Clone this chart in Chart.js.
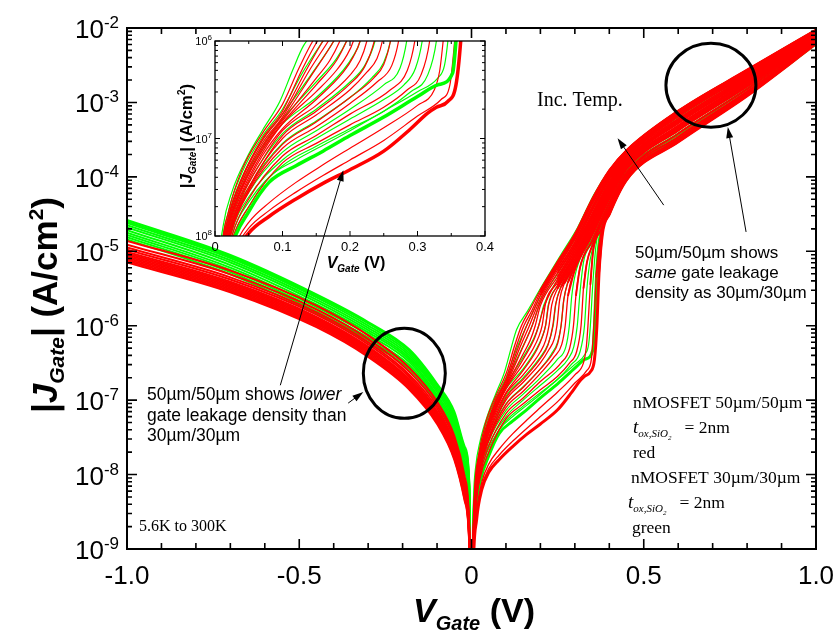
<!DOCTYPE html>
<html><head><meta charset="utf-8">
<script src="https://cdn.jsdelivr.net/npm/chart.js@4/dist/chart.umd.min.js"></script>
<style>
html,body{margin:0;padding:0;background:#fff;}
#wrap{position:relative;width:837px;height:633px;overflow:hidden;background:#fff;}
canvas{position:absolute;left:0;top:0;}
</style></head>
<body><div id="wrap"><canvas id="main" width="837" height="633"></canvas><canvas id="inset" width="837" height="633"></canvas></div>
<script>
// ---------------- DATA (values are log10 of |J_Gate| in A/cm^2) ----------------
const X_TICK_VALUES = [-1, -0.5, 0, 0.5, 1];
const X_TICK_LABELS = ['-1.0', '-0.5', '0', '0.5', '1.0'];
const Y_TICK_EXPONENTS = [-9, -8, -7, -6, -5, -4, -3, -2];
const INSET_X_TICK_VALUES = [0, 0.1, 0.2, 0.3, 0.4];
const INSET_X_TICK_LABELS = ['0', '0.1', '0.2', '0.3', '0.4'];
const INSET_Y_TICK_EXPONENTS = [-8, -7, -6];
const INSET_Y_TICK_LABELS = ['8', '7', '6'];

// negative gate voltage branch, common V grid
const X_NEG = [-1, -0.7, -0.45, -0.3, -0.18, -0.1, -0.05, -0.02, -0.006, 0];

// 50um/50um (red), low T -> high T
const RED_NEG_LOG10 = [
  [-5.15,-5.55,-6.02,-6.42,-6.86,-7.32,-7.80,-8.35,-9.00,-11],
  [-5.13,-5.53,-6.00,-6.40,-6.84,-7.30,-7.78,-8.33,-8.98,-11],
  [-5.11,-5.51,-5.98,-6.38,-6.82,-7.28,-7.76,-8.30,-8.97,-11],
  [-5.09,-5.49,-5.96,-6.36,-6.80,-7.26,-7.73,-8.28,-8.95,-11],
  [-5.07,-5.47,-5.94,-6.34,-6.78,-7.24,-7.71,-8.26,-8.93,-11],
  [-5.05,-5.45,-5.92,-6.32,-6.76,-7.21,-7.69,-8.23,-8.92,-11],
  [-5.03,-5.43,-5.90,-6.30,-6.74,-7.19,-7.67,-8.21,-8.90,-11],
  [-5.01,-5.41,-5.88,-6.28,-6.72,-7.17,-7.64,-8.19,-8.88,-11],
  [-4.98,-5.38,-5.85,-6.25,-6.69,-7.15,-7.61,-8.16,-8.86,-11],
  [-4.95,-5.35,-5.82,-6.22,-6.66,-7.11,-7.58,-8.12,-8.83,-11],
  [-4.91,-5.31,-5.78,-6.18,-6.62,-7.07,-7.53,-8.08,-8.80,-11],
  [-4.86,-5.26,-5.73,-6.13,-6.57,-7.02,-7.48,-8.02,-8.76,-11]
];
// 30um/30um (green)
const GREEN_NEG_LOG10 = [
  [-4.84,-5.31,-5.84,-6.22,-6.59,-7.06,-7.48,-7.98,-8.45,-11],
  [-4.81,-5.28,-5.81,-6.19,-6.56,-7.03,-7.44,-7.94,-8.41,-11],
  [-4.78,-5.25,-5.78,-6.16,-6.53,-6.99,-7.40,-7.89,-8.38,-11],
  [-4.75,-5.22,-5.75,-6.12,-6.49,-6.96,-7.36,-7.85,-8.34,-11],
  [-4.715,-5.185,-5.715,-6.09,-6.46,-6.93,-7.32,-7.81,-8.31,-11],
  [-4.68,-5.15,-5.68,-6.06,-6.43,-6.89,-7.28,-7.76,-8.27,-11],
  [-4.65,-5.12,-5.65,-6.03,-6.40,-6.86,-7.24,-7.72,-8.23,-11],
  [-4.62,-5.09,-5.62,-6.00,-6.37,-6.83,-7.21,-7.68,-8.20,-11],
  [-4.60,-5.07,-5.60,-5.97,-6.34,-6.80,-7.18,-7.65,-8.17,-11],
  [-4.58,-5.05,-5.58,-5.95,-6.32,-6.78,-7.15,-7.62,-8.15,-11]
];

// positive gate voltage branch: [V, log10|J|] per temperature curve (low T first)
const RED_POS_LOG10 = [
  [[0,-11],[0.005,-9.3],[0.015,-8.6],[0.03,-8.2],[0.05,-7.97],[0.08,-7.8],[0.12,-7.62],[0.16,-7.46],[0.2,-7.32],[0.25,-7.13],[0.29,-6.9],[0.315,-6.74],[0.328,-6.68],[0.345,-6.62],[0.357,-6.45],[0.364,-6.0],[0.37,-5.3],[0.38,-4.76],[0.4,-4.5],[0.45,-4.04],[0.6,-3.53],[0.8,-2.91],[1.0,-2.21]],
  [[0,-11],[0.005,-9.25],[0.015,-8.55],[0.03,-8.15],[0.05,-7.92],[0.08,-7.74],[0.12,-7.55],[0.16,-7.38],[0.2,-7.22],[0.25,-7.02],[0.3,-6.77],[0.335,-6.6],[0.348,-6.45],[0.355,-6.0],[0.362,-5.35],[0.372,-4.88],[0.4,-4.47],[0.45,-4.02],[0.6,-3.51],[0.8,-2.89],[1.0,-2.2]],
  [[0,-11],[0.005,-9.2],[0.015,-8.5],[0.03,-8.1],[0.05,-7.86],[0.08,-7.66],[0.12,-7.45],[0.16,-7.27],[0.2,-7.1],[0.25,-6.89],[0.3,-6.66],[0.325,-6.5],[0.333,-6.3],[0.338,-6.0],[0.345,-5.45],[0.353,-5.0],[0.375,-4.72],[0.4,-4.44],[0.45,-4.0],[0.6,-3.49],[0.8,-2.87],[1.0,-2.19]],
  [[0,-11],[0.004,-9.3],[0.012,-8.5],[0.025,-8.05],[0.05,-7.7],[0.1,-7.25],[0.15,-7.05],[0.2,-6.86],[0.25,-6.68],[0.285,-6.5],[0.305,-6.35],[0.318,-6.0],[0.325,-5.5],[0.335,-5.15],[0.35,-4.93],[0.4,-4.4],[0.45,-3.97],[0.6,-3.46],[0.8,-2.85],[1.0,-2.18]],
  [[0,-11],[0.004,-9.3],[0.012,-8.45],[0.025,-8.0],[0.05,-7.62],[0.1,-7.18],[0.15,-6.97],[0.2,-6.75],[0.26,-6.5],[0.285,-6.3],[0.296,-6.0],[0.303,-5.6],[0.315,-5.22],[0.35,-4.86],[0.4,-4.35],[0.45,-3.94],[0.6,-3.42],[0.8,-2.82],[1.0,-2.16]],
  [[0,-11],[0.004,-9.25],[0.012,-8.4],[0.025,-7.95],[0.05,-7.55],[0.1,-7.1],[0.15,-6.88],[0.2,-6.64],[0.24,-6.42],[0.262,-6.25],[0.272,-6.0],[0.28,-5.6],[0.3,-5.25],[0.35,-4.79],[0.4,-4.3],[0.45,-3.9],[0.6,-3.38],[0.8,-2.79],[1.0,-2.15]],
  [[0,-11],[0.004,-9.22],[0.012,-8.38],[0.025,-7.93],[0.05,-7.53],[0.1,-7.06],[0.15,-6.83],[0.2,-6.58],[0.235,-6.38],[0.25,-6.24],[0.26,-6.0],[0.268,-5.65],[0.28,-5.42],[0.3,-5.21],[0.35,-4.75],[0.4,-4.27],[0.45,-3.88],[0.6,-3.36],[0.8,-2.77],[1.0,-2.14]],
  [[0,-11],[0.004,-9.2],[0.012,-8.35],[0.025,-7.9],[0.05,-7.5],[0.1,-7.0],[0.15,-6.76],[0.2,-6.5],[0.225,-6.32],[0.24,-6.18],[0.248,-6.0],[0.256,-5.65],[0.27,-5.43],[0.3,-5.18],[0.35,-4.72],[0.4,-4.24],[0.45,-3.86],[0.6,-3.35],[0.8,-2.76],[1.0,-2.13]],
  [[0,-11],[0.004,-9.2],[0.012,-8.38],[0.025,-7.92],[0.05,-7.52],[0.1,-6.97],[0.15,-6.72],[0.2,-6.44],[0.222,-6.26],[0.236,-6.0],[0.244,-5.72],[0.26,-5.48],[0.3,-5.15],[0.35,-4.69],[0.4,-4.22],[0.45,-3.85],[0.6,-3.33],[0.8,-2.74],[1.0,-2.12]],
  [[0,-11],[0.004,-9.2],[0.01,-8.4],[0.02,-8.0],[0.04,-7.6],[0.07,-7.22],[0.1,-6.92],[0.15,-6.66],[0.2,-6.35],[0.215,-6.2],[0.225,-6.0],[0.233,-5.72],[0.25,-5.5],[0.3,-5.11],[0.35,-4.65],[0.4,-4.19],[0.45,-3.83],[0.6,-3.31],[0.8,-2.72],[1.0,-2.11]],
  [[0,-11],[0.004,-9.18],[0.01,-8.38],[0.02,-7.98],[0.04,-7.58],[0.07,-7.18],[0.1,-6.9],[0.15,-6.6],[0.19,-6.32],[0.205,-6.16],[0.215,-6.0],[0.224,-5.72],[0.25,-5.46],[0.3,-5.07],[0.35,-4.61],[0.4,-4.16],[0.45,-3.81],[0.6,-3.28],[0.8,-2.7],[1.0,-2.1]],
  [[0,-11],[0.004,-9.15],[0.01,-8.35],[0.02,-7.95],[0.04,-7.55],[0.07,-7.15],[0.1,-6.85],[0.15,-6.52],[0.18,-6.3],[0.195,-6.15],[0.205,-6.0],[0.215,-5.7],[0.25,-5.42],[0.3,-5.04],[0.35,-4.57],[0.4,-4.13],[0.45,-3.79],[0.6,-3.26],[0.8,-2.69],[1.0,-2.09]],
  [[0,-11],[0.004,-9.12],[0.01,-8.32],[0.02,-7.92],[0.04,-7.52],[0.07,-7.12],[0.1,-6.84],[0.15,-6.45],[0.18,-6.2],[0.195,-6.0],[0.21,-5.75],[0.25,-5.38],[0.3,-5.0],[0.35,-4.53],[0.4,-4.1],[0.45,-3.77],[0.6,-3.24],[0.8,-2.67],[1.0,-2.08]],
  [[0,-11],[0.004,-9.1],[0.01,-8.3],[0.02,-7.9],[0.04,-7.5],[0.07,-7.1],[0.1,-6.82],[0.15,-6.38],[0.17,-6.2],[0.185,-6.0],[0.2,-5.73],[0.25,-5.34],[0.3,-4.96],[0.35,-4.5],[0.4,-4.07],[0.45,-3.74],[0.6,-3.22],[0.8,-2.65],[1.0,-2.07]],
  [[0,-11],[0.004,-9.1],[0.01,-8.28],[0.02,-7.88],[0.04,-7.48],[0.07,-7.08],[0.1,-6.8],[0.145,-6.33],[0.176,-6.0],[0.2,-5.68],[0.25,-5.29],[0.3,-4.92],[0.35,-4.45],[0.4,-4.03],[0.45,-3.72],[0.6,-3.19],[0.8,-2.63],[1.0,-2.06]],
  [[0,-11],[0.004,-9.1],[0.01,-8.25],[0.02,-7.85],[0.04,-7.45],[0.07,-7.05],[0.1,-6.78],[0.14,-6.3],[0.168,-6.0],[0.2,-5.64],[0.25,-5.25],[0.3,-4.88],[0.35,-4.41],[0.4,-4.0],[0.45,-3.7],[0.6,-3.17],[0.8,-2.61],[1.0,-2.05]],
  [[0,-11],[0.004,-9.05],[0.01,-8.22],[0.02,-7.82],[0.04,-7.42],[0.07,-7.02],[0.1,-6.75],[0.135,-6.3],[0.16,-6.0],[0.18,-5.8],[0.2,-5.59],[0.25,-5.21],[0.3,-4.83],[0.35,-4.36],[0.4,-3.97],[0.45,-3.68],[0.6,-3.15],[0.8,-2.59],[1.0,-2.04]],
  [[0,-11],[0.004,-9.05],[0.01,-8.2],[0.02,-7.8],[0.04,-7.4],[0.07,-7.0],[0.1,-6.72],[0.13,-6.28],[0.152,-6.0],[0.175,-5.8],[0.2,-5.55],[0.25,-5.17],[0.3,-4.8],[0.35,-4.33],[0.4,-3.94],[0.45,-3.65],[0.6,-3.13],[0.8,-2.57],[1.0,-2.03]],
  [[0,-11],[0.004,-9.0],[0.01,-8.15],[0.02,-7.75],[0.04,-7.32],[0.07,-6.95],[0.1,-6.65],[0.125,-6.27],[0.145,-6.0],[0.17,-5.78],[0.2,-5.52],[0.25,-5.14],[0.3,-4.77],[0.35,-4.3],[0.4,-3.91],[0.45,-3.64],[0.6,-3.11],[0.8,-2.56],[1.0,-2.02]]
];
const GREEN_POS_LOG10 = [
  [[0,-11],[0.003,-9.4],[0.01,-8.6],[0.025,-8.1],[0.05,-7.75],[0.08,-7.45],[0.12,-7.28],[0.16,-7.13],[0.2,-6.97],[0.25,-6.78],[0.3,-6.57],[0.33,-6.45],[0.352,-6.33],[0.357,-6.0],[0.362,-5.4],[0.37,-4.9],[0.4,-4.49],[0.45,-4.03],[0.6,-3.52],[0.8,-2.9],[1.0,-2.21]],
  [[0,-11],[0.003,-9.35],[0.01,-8.55],[0.025,-8.05],[0.05,-7.7],[0.08,-7.4],[0.12,-7.22],[0.16,-7.07],[0.2,-6.92],[0.25,-6.72],[0.3,-6.52],[0.33,-6.38],[0.34,-6.25],[0.345,-6.0],[0.352,-5.45],[0.362,-4.9],[0.4,-4.46],[0.45,-4.01],[0.6,-3.5],[0.8,-2.88],[1.0,-2.2]],
  [[0,-11],[0.003,-9.3],[0.01,-8.5],[0.025,-8.0],[0.05,-7.65],[0.1,-7.28],[0.15,-7.08],[0.2,-6.9],[0.25,-6.72],[0.29,-6.52],[0.315,-6.35],[0.328,-6.0],[0.335,-5.5],[0.345,-5.1],[0.36,-4.86],[0.4,-4.42],[0.45,-3.99],[0.6,-3.47],[0.8,-2.86],[1.0,-2.19]],
  [[0,-11],[0.003,-9.3],[0.01,-8.45],[0.025,-7.95],[0.05,-7.6],[0.1,-7.22],[0.15,-7.0],[0.2,-6.8],[0.25,-6.6],[0.28,-6.45],[0.297,-6.28],[0.307,-6.0],[0.314,-5.6],[0.325,-5.15],[0.35,-4.89],[0.4,-4.37],[0.45,-3.95],[0.6,-3.44],[0.8,-2.83],[1.0,-2.17]],
  [[0,-11],[0.003,-9.25],[0.01,-8.4],[0.025,-7.9],[0.05,-7.55],[0.1,-7.14],[0.15,-6.92],[0.2,-6.7],[0.25,-6.45],[0.274,-6.28],[0.284,-6.0],[0.291,-5.6],[0.305,-5.24],[0.35,-4.83],[0.4,-4.33],[0.45,-3.92],[0.6,-3.41],[0.8,-2.81],[1.0,-2.15]],
  [[0,-11],[0.003,-9.2],[0.01,-8.35],[0.025,-7.85],[0.05,-7.5],[0.1,-7.05],[0.15,-6.82],[0.2,-6.58],[0.232,-6.38],[0.25,-6.22],[0.26,-6.0],[0.268,-5.65],[0.28,-5.4],[0.3,-5.22],[0.35,-4.76],[0.4,-4.27],[0.45,-3.88],[0.6,-3.37],[0.8,-2.77],[1.0,-2.14]],
  [[0,-11],[0.003,-9.2],[0.01,-8.3],[0.025,-7.8],[0.05,-7.45],[0.1,-6.95],[0.15,-6.7],[0.2,-6.42],[0.222,-6.25],[0.237,-6.0],[0.245,-5.7],[0.26,-5.47],[0.3,-5.15],[0.35,-4.69],[0.4,-4.22],[0.45,-3.85],[0.6,-3.33],[0.8,-2.74],[1.0,-2.12]],
  [[0,-11],[0.003,-9.15],[0.008,-8.4],[0.02,-7.9],[0.04,-7.5],[0.07,-7.12],[0.1,-6.85],[0.15,-6.58],[0.19,-6.3],[0.205,-6.15],[0.215,-6.0],[0.223,-5.72],[0.25,-5.46],[0.3,-5.07],[0.35,-4.61],[0.4,-4.16],[0.45,-3.81],[0.6,-3.28],[0.8,-2.7],[1.0,-2.1]],
  [[0,-11],[0.003,-9.1],[0.008,-8.35],[0.02,-7.85],[0.04,-7.45],[0.07,-7.08],[0.1,-6.8],[0.15,-6.42],[0.18,-6.18],[0.195,-6.0],[0.21,-5.72],[0.25,-5.38],[0.3,-5.0],[0.35,-4.53],[0.4,-4.1],[0.45,-3.77],[0.6,-3.24],[0.8,-2.67],[1.0,-2.08]],
  [[0,-11],[0.003,-9.05],[0.008,-8.3],[0.02,-7.8],[0.04,-7.4],[0.07,-7.02],[0.1,-6.75],[0.15,-6.27],[0.176,-6.0],[0.2,-5.68],[0.25,-5.3],[0.3,-4.92],[0.35,-4.46],[0.4,-4.04],[0.45,-3.72],[0.6,-3.2],[0.8,-2.63],[1.0,-2.06]],
  [[0,-11],[0.003,-9.0],[0.008,-8.25],[0.02,-7.75],[0.04,-7.35],[0.07,-6.98],[0.1,-6.7],[0.13,-6.32],[0.16,-6.0],[0.2,-5.6],[0.25,-5.21],[0.3,-4.84],[0.35,-4.37],[0.4,-3.97],[0.45,-3.68],[0.6,-3.15],[0.8,-2.59],[1.0,-2.04]],
  [[0,-11],[0.002,-9.2],[0.006,-8.3],[0.012,-7.9],[0.025,-7.55],[0.047,-7.2],[0.07,-6.92],[0.096,-6.62],[0.115,-6.3],[0.131,-6.05],[0.163,-5.8],[0.209,-5.43],[0.259,-5.05],[0.308,-4.68],[0.355,-4.24],[0.4,-3.91],[0.45,-3.64],[0.6,-3.11],[0.8,-2.56],[1.0,-2.02]]
];

// ---------------- helpers ----------------
const SANS = '"Liberation Sans", Arial, sans-serif';
const SERIF = '"Liberation Serif", "Times New Roman", serif';
const RED = '#ff0000', GREEN = '#00ff00';
const BAND_LOG10 = -5.6; // above this level the curves merge into one dense band

function seriesFromPairs(pairs) { return pairs.map(p => ({ x: p[0], y: Math.pow(10, p[1]) })); }
function seriesFromGrid(xs, logs) { return xs.map((x, i) => ({ x: x, y: Math.pow(10, logs[i]) })); }
function bandTail(pairs) { return pairs.filter(p => p[1] >= BAND_LOG10); }
function lineDs(data, color, width) {
  return { data, borderColor: color, backgroundColor: color, borderWidth: width, pointRadius: 0,
           pointHoverRadius: 0, fill: false, tension: 0.3, cubicInterpolationMode: 'monotone' };
}
function drawRich(ctx, segs, x, y, align, rot) {
  ctx.save();
  ctx.translate(x, y);
  if (rot) ctx.rotate(rot);
  ctx.textBaseline = 'alphabetic';
  ctx.textAlign = 'left';
  ctx.fillStyle = '#000';
  let w = 0;
  for (const s of segs) { ctx.font = s.f; w += ctx.measureText(s.t).width; }
  let cx = align === 'center' ? -w / 2 : (align === 'right' ? -w : 0);
  for (const s of segs) { ctx.font = s.f; ctx.fillText(s.t, cx, s.dy || 0); cx += ctx.measureText(s.t).width; }
  ctx.restore();
}

// ---------------- main chart ----------------
// Chart.js paints dataset 0 last (on top): red (50um) is listed first so it lies over green.
const mainDatasets = [];
RED_POS_LOG10.forEach(p => mainDatasets.push(lineDs(seriesFromPairs(bandTail(p)), RED, 1.9)));
RED_POS_LOG10.forEach((p, i) => mainDatasets.push(lineDs(seriesFromPairs(p), RED, i === 0 ? 3 : 1.3)));
RED_NEG_LOG10.forEach(l => mainDatasets.push(lineDs(seriesFromGrid(X_NEG, l), RED, 2)));
GREEN_POS_LOG10.forEach((p, i) => mainDatasets.push(lineDs(seriesFromPairs(p), GREEN, i === 0 ? 3 : 1.2)));
GREEN_NEG_LOG10.forEach(l => mainDatasets.push(lineDs(seriesFromGrid(X_NEG, l), GREEN, 2)));

const mainAxes = {
  id: 'mainAxes',
  afterDraw(chart) {
    const { ctx, chartArea: a, scales: { x, y } } = chart;
    ctx.save();
    ctx.strokeStyle = '#000';
    ctx.lineWidth = 1.6;
    ctx.beginPath();
    for (let i = 0; i <= 20; i++) {
      const px = x.getPixelForValue(-1 + i * 0.1);
      const len = (i % 5 === 0) ? 10 : 6;
      ctx.moveTo(px, a.bottom); ctx.lineTo(px, a.bottom - len);
      ctx.moveTo(px, a.top); ctx.lineTo(px, a.top + len);
    }
    for (let e = -9; e <= -2; e++) {
      const py = y.getPixelForValue(Math.pow(10, e));
      ctx.moveTo(a.left, py); ctx.lineTo(a.left + 10, py);
      ctx.moveTo(a.right, py); ctx.lineTo(a.right - 10, py);
      if (e < -2) {
        for (let m = 2; m <= 9; m++) {
          const pm = y.getPixelForValue(m * Math.pow(10, e));
          ctx.moveTo(a.left, pm); ctx.lineTo(a.left + 5, pm);
          ctx.moveTo(a.right, pm); ctx.lineTo(a.right - 5, pm);
        }
      }
    }
    ctx.stroke();
    ctx.lineWidth = 2;
    ctx.strokeRect(a.left, a.top, a.right - a.left, a.bottom - a.top);
    X_TICK_VALUES.forEach((v, i) => {
      drawRich(ctx, [{ t: X_TICK_LABELS[i], f: '26px ' + SANS }], x.getPixelForValue(v), a.bottom + 35, 'center');
    });
    Y_TICK_EXPONENTS.forEach(e => {
      const py = y.getPixelForValue(Math.pow(10, e));
      drawRich(ctx, [{ t: '10', f: '26px ' + SANS }, { t: String(e), f: '17px ' + SANS, dy: -10 }], a.left - 8, py + 10, 'right');
    });
    drawRich(ctx, [
      { t: 'V', f: 'italic bold 34px ' + SANS },
      { t: 'Gate', f: 'italic bold 20px ' + SANS, dy: 8 },
      { t: ' (V)', f: 'bold 34px ' + SANS }
    ], 474, 622, 'center');
    drawRich(ctx, [
      { t: '|', f: 'bold 35px ' + SANS },
      { t: 'J', f: 'italic bold 35px ' + SANS },
      { t: 'Gate', f: 'italic bold 21px ' + SANS, dy: 7 },
      { t: '| (A/cm', f: 'bold 35px ' + SANS },
      { t: '2', f: 'bold 21px ' + SANS, dy: -14 },
      { t: ')', f: 'bold 35px ' + SANS }
    ], 57, 305, 'center', -Math.PI / 2);
    ctx.restore();
  }
};

const mainChart = new Chart(document.getElementById('main'), {
  type: 'line',
  data: { datasets: mainDatasets },
  options: {
    responsive: false, animation: false, devicePixelRatio: 1, events: [],
    layout: { padding: { left: 127, top: 28, right: 21, bottom: 84 } },
    plugins: { legend: { display: false }, tooltip: { enabled: false } },
    scales: {
      x: { type: 'linear', min: -1, max: 1, display: false },
      y: { type: 'logarithmic', min: 1e-9, max: 1e-2, display: false }
    }
  },
  plugins: [mainAxes]
});

// ---------------- inset chart ----------------
const insetDatasets = [];
insetDatasets.push(lineDs(seriesFromPairs(GREEN_POS_LOG10[0]), GREEN, 3.5));
RED_POS_LOG10.forEach((p, i) => insetDatasets.push(lineDs(seriesFromPairs(p), RED, i === 0 ? 3.5 : 1.2)));
GREEN_POS_LOG10.forEach((p, i) => { if (i > 0) insetDatasets.push(lineDs(seriesFromPairs(p), GREEN, 1.2)); });

const insetAxes = {
  id: 'insetAxes',
  beforeDraw(chart) {
    const { ctx, chartArea: a } = chart;
    ctx.save(); ctx.fillStyle = '#fff';
    ctx.fillRect(a.left, a.top, a.right - a.left, a.bottom - a.top);
    ctx.restore();
  },
  afterDraw(chart) {
    const { ctx, chartArea: a, scales: { x, y } } = chart;
    ctx.save();
    ctx.strokeStyle = '#000';
    ctx.lineWidth = 1;
    ctx.beginPath();
    for (let i = 0; i <= 8; i++) {
      const px = x.getPixelForValue(i * 0.05);
      const len = (i % 2 === 0) ? 5 : 3;
      ctx.moveTo(px, a.bottom); ctx.lineTo(px, a.bottom - len);
      ctx.moveTo(px, a.top); ctx.lineTo(px, a.top + len);
    }
    for (let e = -8; e <= -6; e++) {
      const py = y.getPixelForValue(Math.pow(10, e));
      ctx.moveTo(a.left, py); ctx.lineTo(a.left + 5, py);
      ctx.moveTo(a.right, py); ctx.lineTo(a.right - 5, py);
      if (e < -6) {
        for (let m = 2; m <= 9; m++) {
          const pm = y.getPixelForValue(m * Math.pow(10, e));
          ctx.moveTo(a.left, pm); ctx.lineTo(a.left + 3, pm);
          ctx.moveTo(a.right, pm); ctx.lineTo(a.right - 3, pm);
        }
      }
    }
    ctx.stroke();
    ctx.lineWidth = 1.3;
    ctx.strokeRect(a.left, a.top, a.right - a.left, a.bottom - a.top);
    INSET_X_TICK_VALUES.forEach((v, i) => {
      drawRich(ctx, [{ t: INSET_X_TICK_LABELS[i], f: '13px ' + SANS }], x.getPixelForValue(v), a.bottom + 15, 'center');
    });
    INSET_Y_TICK_EXPONENTS.forEach((e, i) => {
      const py = y.getPixelForValue(Math.pow(10, e));
      drawRich(ctx, [{ t: '10', f: '11px ' + SANS }, { t: INSET_Y_TICK_LABELS[i], f: '8px ' + SANS, dy: -5 }], a.left - 3, py + 4, 'right');
    });
    drawRich(ctx, [
      { t: 'V', f: 'italic bold 16px ' + SANS },
      { t: 'Gate', f: 'italic bold 10px ' + SANS, dy: 4 },
      { t: ' (V)', f: 'bold 16px ' + SANS }
    ], 356, 268, 'center');
    drawRich(ctx, [
      { t: '|', f: 'bold 17px ' + SANS },
      { t: 'J', f: 'italic bold 17px ' + SANS },
      { t: 'Gate', f: 'italic bold 10px ' + SANS, dy: 4 },
      { t: '| (A/cm', f: 'bold 17px ' + SANS },
      { t: '2', f: 'bold 10px ' + SANS, dy: -7 },
      { t: ')', f: 'bold 17px ' + SANS }
    ], 192, 136, 'center', -Math.PI / 2);
    ctx.restore();
    drawAnnotations(ctx);
  }
};

// annotations anchored in main-chart data coordinates (V, log10 J)
const ELLIPSES = [
  { v: -0.195, e: -6.64, rx: 41, ry: 45 },
  { v: 0.695, e: -2.77, rx: 45, ry: 42 }
];
const ARROWS = [
  { from: [0.558, -4.38], to: [0.424, -3.48] },
  { from: [0.797, -4.74], to: [0.744, -3.33] },
  { from: [-0.555, -6.80], to: [-0.372, -3.91] },
  { from: [-0.358, -7.04], to: [-0.314, -6.89] }
];
function drawAnnotations(ctx) {
  const sx = mainChart.scales.x, sy = mainChart.scales.y;
  const px = v => sx.getPixelForValue(v);
  const py = e => sy.getPixelForValue(Math.pow(10, e));
  ctx.save();
  ctx.strokeStyle = '#000'; ctx.fillStyle = '#000';
  ctx.lineWidth = 3;
  ELLIPSES.forEach(el => {
    ctx.beginPath(); ctx.ellipse(px(el.v), py(el.e), el.rx, el.ry, 0, 0, Math.PI * 2); ctx.stroke();
  });
  ARROWS.forEach(ar => {
    const x1 = px(ar.from[0]), y1 = py(ar.from[1]), x2 = px(ar.to[0]), y2 = py(ar.to[1]);
    const ang = Math.atan2(y2 - y1, x2 - x1), L = 11, W = 3.5;
    ctx.lineWidth = 1;
    ctx.beginPath(); ctx.moveTo(x1, y1); ctx.lineTo(x2 - L * 0.8 * Math.cos(ang), y2 - L * 0.8 * Math.sin(ang)); ctx.stroke();
    ctx.beginPath(); ctx.moveTo(x2, y2);
    ctx.lineTo(x2 - L * Math.cos(ang) + W * Math.sin(ang), y2 - L * Math.sin(ang) - W * Math.cos(ang));
    ctx.lineTo(x2 - L * Math.cos(ang) - W * Math.sin(ang), y2 - L * Math.sin(ang) + W * Math.cos(ang));
    ctx.closePath(); ctx.fill();
  });
  ctx.restore();
  const s17 = '17.5px ' + SANS, s17i = 'italic 17.5px ' + SANS;
  drawRich(ctx, [{ t: '50µm/50µm shows ', f: s17 }, { t: 'lower', f: s17i }], 147, 400);
  drawRich(ctx, [{ t: 'gate leakage density than', f: s17 }], 147, 421);
  drawRich(ctx, [{ t: '30µm/30µm', f: s17 }], 147, 441);
  const r17 = '17px ' + SANS, r17i = 'italic 17px ' + SANS;
  drawRich(ctx, [{ t: '50µm/50µm shows', f: r17 }], 635, 258);
  drawRich(ctx, [{ t: 'same', f: r17i }, { t: ' gate leakage', f: r17 }], 635, 278);
  drawRich(ctx, [{ t: 'density as 30µm/30µm', f: r17 }], 635, 298);
  drawRich(ctx, [{ t: 'Inc. Temp.', f: '20px ' + SERIF }], 537, 106);
  const t17 = '17.5px ' + SERIF;
  const tline = [
    { t: 't', f: 'italic 19px ' + SERIF },
    { t: 'ox,SiO', f: 'italic 11px ' + SERIF, dy: 4 },
    { t: '2', f: 'italic 7px ' + SERIF, dy: 7 },
    { t: '   = 2nm', f: t17 }
  ];
  drawRich(ctx, [{ t: 'nMOSFET 50µm/50µm', f: t17 }], 633, 408);
  drawRich(ctx, tline, 633, 433);
  drawRich(ctx, [{ t: 'red', f: t17 }], 633, 458);
  drawRich(ctx, [{ t: 'nMOSFET 30µm/30µm', f: t17 }], 631, 483);
  drawRich(ctx, tline, 628, 508);
  drawRich(ctx, [{ t: 'green', f: t17 }], 632, 533);
  drawRich(ctx, [{ t: '5.6K to 300K', f: '16px ' + SERIF }], 139, 531);
}

const insetChart = new Chart(document.getElementById('inset'), {
  type: 'line',
  data: { datasets: insetDatasets },
  options: {
    responsive: false, animation: false, devicePixelRatio: 1, events: [],
    layout: { padding: { left: 215, top: 41, right: 352, bottom: 397 } },
    plugins: { legend: { display: false }, tooltip: { enabled: false } },
    scales: {
      x: { type: 'linear', min: 0, max: 0.4, display: false },
      y: { type: 'logarithmic', min: 1e-8, max: 1e-6, display: false }
    }
  },
  plugins: [insetAxes]
});
</script>
</body></html>
